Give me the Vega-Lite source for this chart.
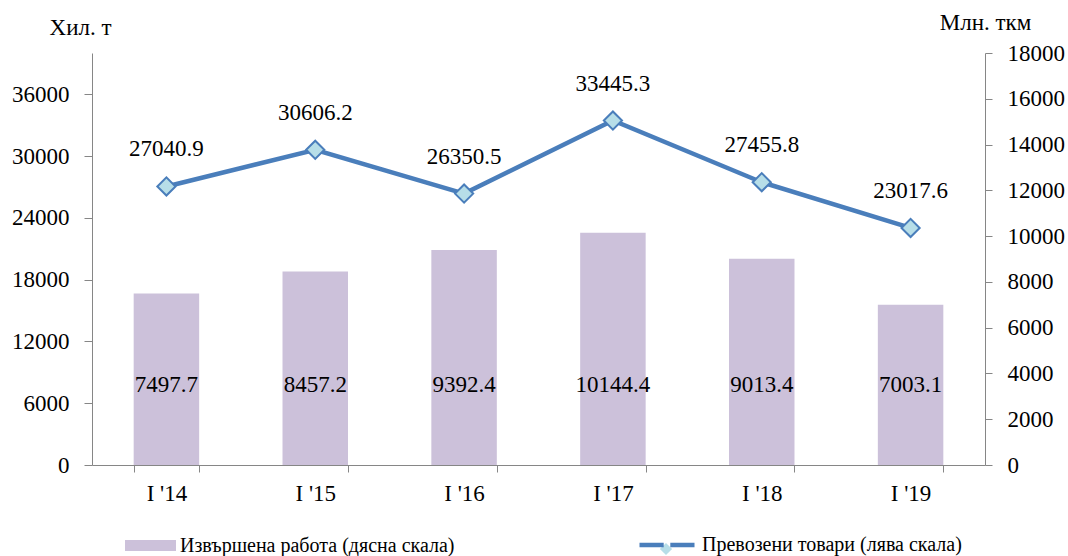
{
  "$schema": "https://vega.github.io/schema/vega-lite/v6.json",
  "width": 893,
  "height": 412,
  "autosize": {"type": "none"},
  "padding": {"left": 92, "top": 53, "right": 83, "bottom": 91},
  "background": "white",
  "config": {
    "view": {"stroke": null},
    "font": "Liberation Serif",
    "axis": {
      "labelFont": "Liberation Serif",
      "labelFontSize": 23,
      "labelColor": "black",
      "titleFont": "Liberation Serif",
      "titleFontSize": 23,
      "titleFontWeight": "normal",
      "titleColor": "black",
      "domainColor": "#868686",
      "tickColor": "#868686",
      "grid": false
    },
    "legend": {
      "labelFont": "Liberation Serif",
      "labelFontSize": 20,
      "labelColor": "black",
      "labelLimit": 400
    }
  },
  "data": {
    "values": [
      {"period": "I '14", "work": 7497.7, "goods": 27040.9},
      {"period": "I '15", "work": 8457.2, "goods": 30606.2},
      {"period": "I '16", "work": 9392.4, "goods": 26350.5},
      {"period": "I '17", "work": 10144.4, "goods": 33445.3},
      {"period": "I '18", "work": 9013.4, "goods": 27455.8},
      {"period": "I '19", "work": 7003.1, "goods": 23017.6}
    ]
  },
  "encoding": {
    "x": {
      "field": "period",
      "type": "nominal",
      "sort": null,
      "scale": {"paddingInner": 0.56, "paddingOuter": 0.28},
      "axis": {
        "title": null,
        "labelAngle": 0,
        "tickBand": "extent",
        "tickSize": 7,
        "labelPadding": 10
      }
    }
  },
  "layer": [
    {
      "layer": [
        {
          "mark": {"type": "bar", "color": "#CCC1DA"},
          "encoding": {
            "y": {
              "field": "work",
              "type": "quantitative",
              "scale": {"domain": [0, 18000], "nice": false},
              "axis": {
                "orient": "right",
                "values": [0, 2000, 4000, 6000, 8000, 10000, 12000, 14000, 16000, 18000],
                "format": "d",
                "tickSize": 7,
                "labelPadding": 15,
                "title": "Млн. ткм",
                "titleAngle": 0,
                "titleX": 0,
                "titleY": -31,
                "titleAlign": "center",
                "titleBaseline": "middle"
              }
            },
            "color": {
              "datum": "Извършена работа (дясна скала)",
              "scale": {"range": ["#CCC1DA"]},
              "legend": {
                "title": null,
                "orient": "none",
                "legendX": 33,
                "legendY": 467,
                "symbolType": "M-1,-0.22H1V0.22H-1Z",
                "symbolSize": 2601,
                "symbolStrokeWidth": 0,
                "labelOffset": 4
              }
            }
          }
        },
        {
          "mark": {"type": "text", "fontSize": 23, "font": "Liberation Serif", "color": "black", "baseline": "middle"},
          "encoding": {
            "y": {
              "datum": 3500,
              "type": "quantitative",
              "axis": {
                "orient": "right",
                "values": [0, 2000, 4000, 6000, 8000, 10000, 12000, 14000, 16000, 18000],
                "format": "d",
                "tickSize": 7,
                "labelPadding": 15,
                "title": "Млн. ткм",
                "titleAngle": 0,
                "titleX": 0,
                "titleY": -31,
                "titleAlign": "center",
                "titleBaseline": "middle"
              }
            },
            "text": {"field": "work", "type": "quantitative", "format": ".1f"}
          }
        }
      ]
    },
    {
      "encoding": {
        "y": {
          "field": "goods",
          "type": "quantitative",
          "scale": {"domain": [0, 40000], "nice": false},
          "axis": {
            "orient": "left",
            "values": [0, 6000, 12000, 18000, 24000, 30000, 36000],
            "format": "d",
            "tickSize": 8,
            "labelPadding": 15,
            "title": "Хил. т",
            "titleAngle": 0,
            "titleX": -12,
            "titleY": -26,
            "titleAlign": "center",
            "titleBaseline": "middle"
          }
        }
      },
      "layer": [
        {
          "mark": {"type": "line", "strokeWidth": 4.5},
          "encoding": {
            "color": {
              "datum": "Превозени товари (лява скала)",
              "scale": {"range": ["#4A7EBB"]},
              "legend": {
                "title": null,
                "orient": "none",
                "legendX": 545,
                "legendY": 462,
                "symbolType": "M-1,0H-0.12M0.12,0H1",
                "symbolSize": 3025,
                "symbolStrokeWidth": 4.5,
                "labelOffset": 5
              }
            }
          }
        },
        {
          "mark": {"type": "point", "size": 330, "filled": true, "fill": "#B7DEE8", "stroke": "#4A7EBB", "strokeWidth": 2, "opacity": 1},
          "encoding": {
            "shape": {
              "datum": "marker",
              "scale": {"range": ["diamond"]},
              "legend": {
                "title": null,
                "orient": "none",
                "legendX": 567,
                "legendY": 489,
                "symbolSize": 150,
                "symbolStrokeWidth": 1.5,
                "symbolFillColor": "#B7DEE8",
                "symbolStrokeColor": "#4A7EBB",
                "labelExpr": "''",
                "labelFontSize": 1,
                "encode": {
                  "symbols": {
                    "update": {
                      "fill": {"value": "#B7DEE8"},
                      "stroke": {"value": "#4A7EBB"},
                      "strokeWidth": {"value": 1.5},
                      "opacity": {"value": 1}
                    }
                  }
                }
              }
            }
          }
        },
        {
          "mark": {"type": "text", "fontSize": 23, "font": "Liberation Serif", "color": "black", "dy": -37, "baseline": "middle"},
          "encoding": {
            "text": {"field": "goods", "type": "quantitative", "format": ".1f"}
          }
        }
      ]
    }
  ],
  "resolve": {"scale": {"y": "independent", "color": "independent"}}
}
